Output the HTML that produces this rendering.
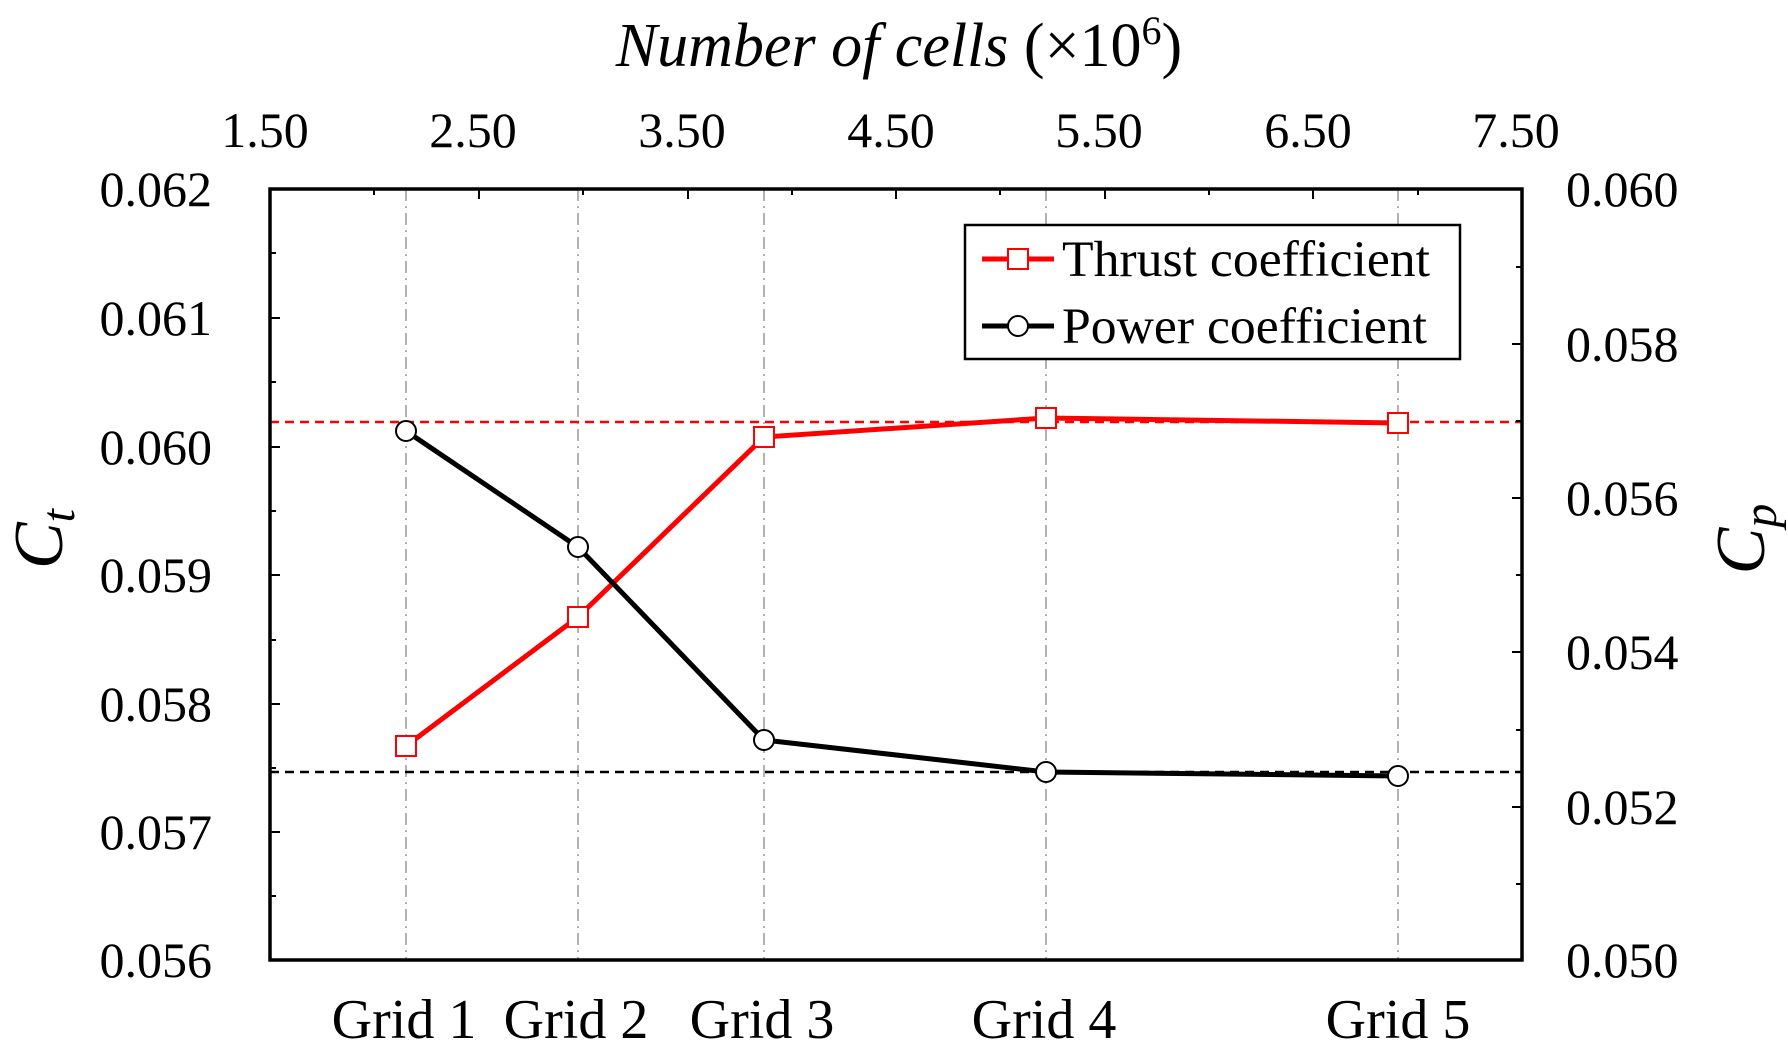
<!DOCTYPE html>
<html><head><meta charset="utf-8"><style>body{margin:0;background:#fff}svg{display:block}text{font-family:"Liberation Serif",serif;fill:#000}</style></head><body>
<svg width="1788" height="1052" viewBox="0 0 1788 1052" xmlns="http://www.w3.org/2000/svg">
<g stroke="#999" stroke-width="1.5" stroke-dasharray="12,5,2,5">
<line x1="406" y1="189" x2="406" y2="960"/><line x1="578" y1="189" x2="578" y2="960"/><line x1="764" y1="189" x2="764" y2="960"/><line x1="1046" y1="189" x2="1046" y2="960"/><line x1="1398" y1="189" x2="1398" y2="960"/>
</g>
<line x1="270" y1="422" x2="1522" y2="422" stroke="#f00" stroke-width="2.5" stroke-dasharray="9,6"/>
<line x1="270" y1="772" x2="1522" y2="772" stroke="#000" stroke-width="2.5" stroke-dasharray="9,6"/>
<g stroke="#000" stroke-width="2">
<line x1="270" y1="318" x2="280" y2="318"/><line x1="270" y1="447" x2="280" y2="447"/><line x1="270" y1="575" x2="280" y2="575"/><line x1="270" y1="704" x2="280" y2="704"/><line x1="270" y1="832" x2="280" y2="832"/>
<line x1="270" y1="253" x2="276" y2="253"/><line x1="270" y1="382" x2="276" y2="382"/><line x1="270" y1="511" x2="276" y2="511"/><line x1="270" y1="640" x2="276" y2="640"/><line x1="270" y1="768" x2="276" y2="768"/><line x1="270" y1="896" x2="276" y2="896"/>
<line x1="1512" y1="344" x2="1522" y2="344"/><line x1="1512" y1="498" x2="1522" y2="498"/><line x1="1512" y1="652" x2="1522" y2="652"/><line x1="1512" y1="807" x2="1522" y2="807"/>
<line x1="1516" y1="267" x2="1522" y2="267"/><line x1="1516" y1="421" x2="1522" y2="421"/><line x1="1516" y1="575" x2="1522" y2="575"/><line x1="1516" y1="730" x2="1522" y2="730"/><line x1="1516" y1="884" x2="1522" y2="884"/>
<line x1="479" y1="189" x2="479" y2="199"/><line x1="688" y1="189" x2="688" y2="199"/><line x1="896" y1="189" x2="896" y2="199"/><line x1="1105" y1="189" x2="1105" y2="199"/><line x1="1313" y1="189" x2="1313" y2="199"/>
<line x1="374" y1="189" x2="374" y2="195"/><line x1="583" y1="189" x2="583" y2="195"/><line x1="792" y1="189" x2="792" y2="195"/><line x1="1000" y1="189" x2="1000" y2="195"/><line x1="1209" y1="189" x2="1209" y2="195"/><line x1="1418" y1="189" x2="1418" y2="195"/>
</g>
<rect x="270" y="189" width="1252" height="771" fill="none" stroke="#000" stroke-width="3.5"/>
<polyline points="406,746 578,617 764,437 1046,418 1398,423" fill="none" stroke="#f00" stroke-width="5"/>
<g fill="#fff" stroke="#f00" stroke-width="2">
<rect x="396" y="736" width="20" height="20"/><rect x="568" y="607" width="20" height="20"/><rect x="754" y="427" width="20" height="20"/><rect x="1036" y="408" width="20" height="20"/><rect x="1388" y="413" width="20" height="20"/>
</g>
<polyline points="406,431 578,547 764,740 1046,772 1398,776" fill="none" stroke="#000" stroke-width="5"/>
<g fill="#fff" stroke="#000" stroke-width="2">
<circle cx="406" cy="431" r="10"/><circle cx="578" cy="547" r="10"/><circle cx="764" cy="740" r="10"/><circle cx="1046" cy="772" r="10"/><circle cx="1398" cy="776" r="10"/>
</g>
<rect x="965" y="225" width="495" height="134" fill="#fff" stroke="#000" stroke-width="2.5"/>
<line x1="982" y1="259" x2="1054" y2="259" stroke="#f00" stroke-width="5"/><rect x="1008" y="249" width="20" height="20" fill="#fff" stroke="#f00" stroke-width="2"/>
<line x1="982" y1="326" x2="1054" y2="326" stroke="#000" stroke-width="5"/><circle cx="1018" cy="326" r="10" fill="#fff" stroke="#000" stroke-width="2"/>
<text x="1062" y="276" font-size="51" textLength="368" lengthAdjust="spacingAndGlyphs">Thrust coefficient</text>
<text x="1062" y="343" font-size="51" textLength="365" lengthAdjust="spacingAndGlyphs">Power coefficient</text>
<g font-size="50" text-anchor="end">
<text x="212" y="206">0.062</text><text x="212" y="335">0.061</text><text x="212" y="464">0.060</text><text x="212" y="592">0.059</text><text x="212" y="721">0.058</text><text x="212" y="849">0.057</text><text x="212" y="977">0.056</text>
</g>
<g font-size="50">
<text x="1566" y="206">0.060</text><text x="1566" y="361">0.058</text><text x="1566" y="515">0.056</text><text x="1566" y="669">0.054</text><text x="1566" y="824">0.052</text><text x="1566" y="977">0.050</text>
</g>
<g font-size="50" text-anchor="middle">
<text x="265" y="147">1.50</text><text x="473" y="147">2.50</text><text x="682" y="147">3.50</text><text x="891" y="147">4.50</text><text x="1099" y="147">5.50</text><text x="1308" y="147">6.50</text><text x="1516" y="147">7.50</text>
</g>
<g font-size="56" text-anchor="middle">
<text x="404" y="1038">Grid 1</text><text x="576" y="1038">Grid 2</text><text x="762" y="1038">Grid 3</text><text x="1044" y="1038">Grid 4</text><text x="1398" y="1038">Grid 5</text>
</g>
<text x="899" y="66" font-size="62" text-anchor="middle"><tspan font-style="italic">Number of cells</tspan> (×10<tspan font-size="40" dy="-22">6</tspan><tspan dy="22">)</tspan></text>
<text transform="translate(62,539) rotate(-90)" font-size="70" text-anchor="middle" font-style="italic">C<tspan font-size="48" dy="12">t</tspan></text>
<text transform="translate(1764,539) rotate(-90)" font-size="70" text-anchor="middle" font-style="italic">C<tspan font-size="48" dy="12">p</tspan></text>
</svg>
</body></html>
